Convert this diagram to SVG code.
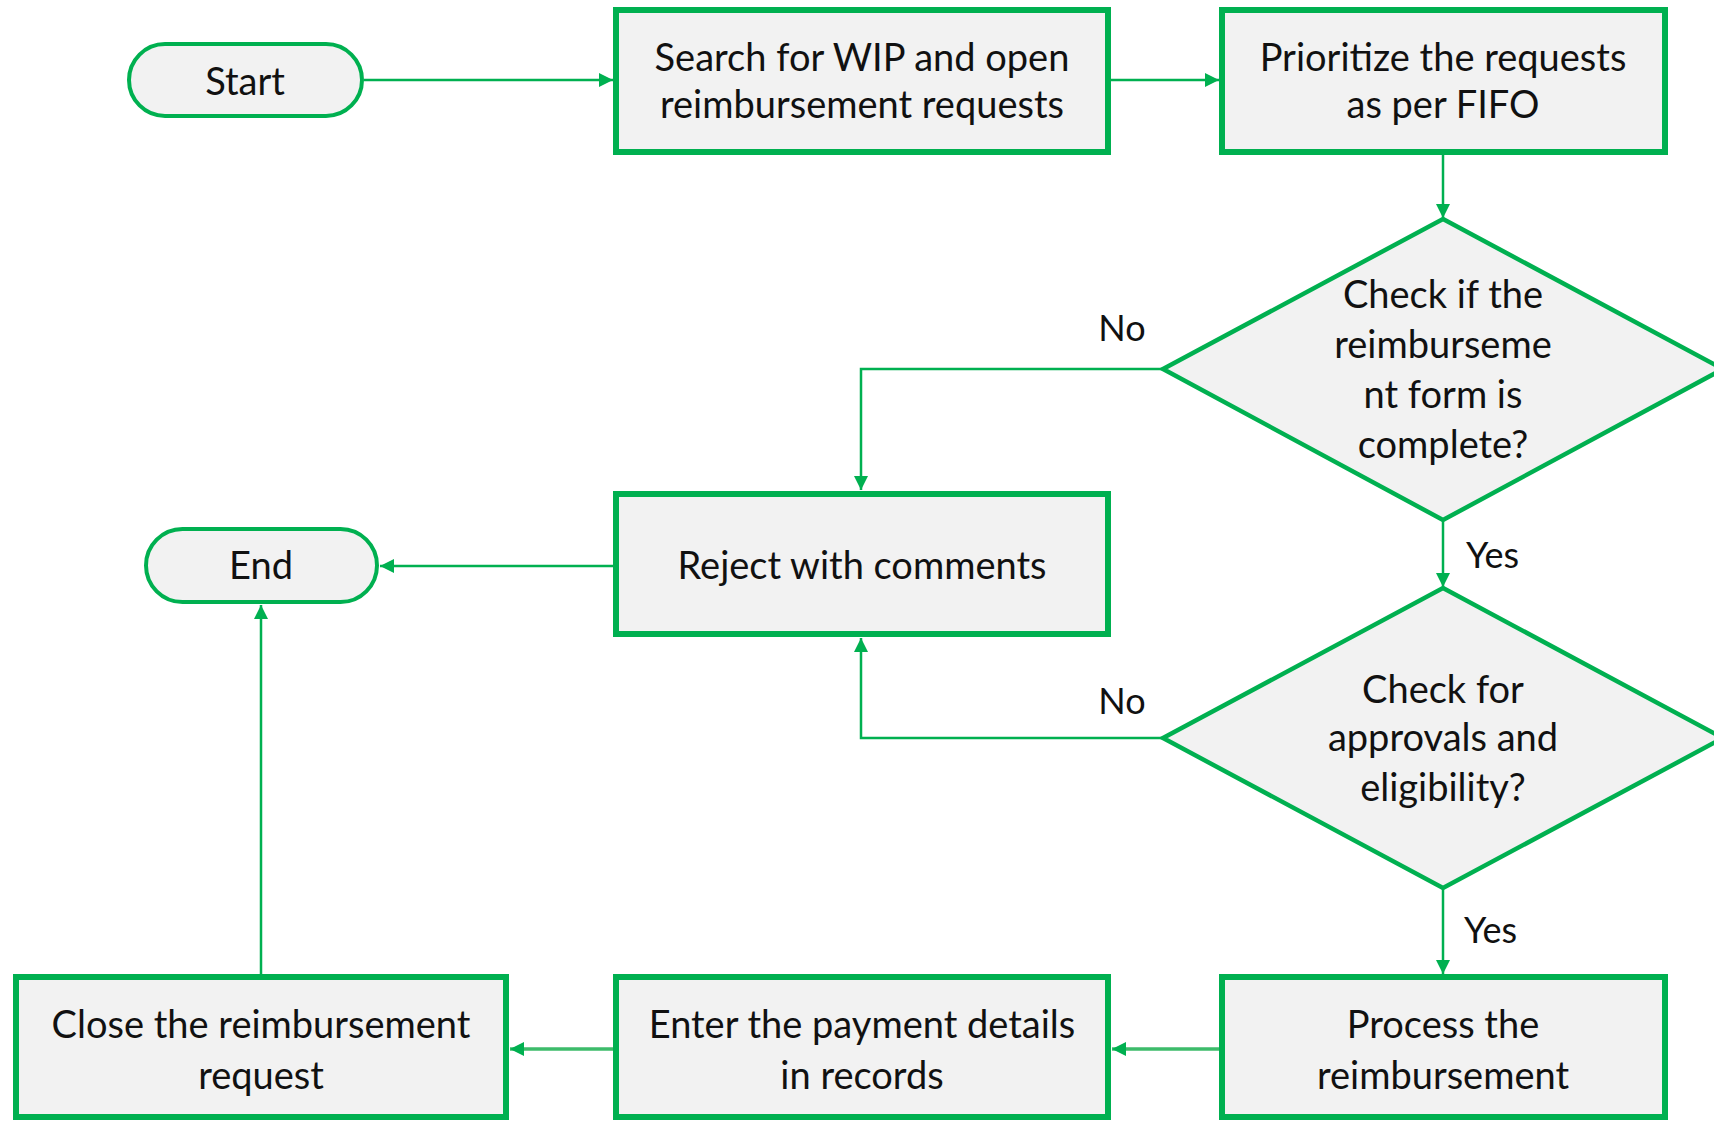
<svg xmlns="http://www.w3.org/2000/svg" width="1714" height="1122" viewBox="0 0 1714 1122">
  <style>
    .box { fill: #F2F2F2; stroke: #00B050; stroke-width: 6; }
    .pill { fill: #F2F2F2; stroke: #00B050; stroke-width: 4; }
    .dia { fill: #F2F2F2; stroke: #00B050; stroke-width: 4.5; stroke-linejoin: miter; }
    .lbl { font-family: Lato, "Open Sans", "Liberation Sans", sans-serif; font-size: 38px; fill: #111111; text-anchor: middle; }
    .tag { font-family: Lato, "Open Sans", "Liberation Sans", sans-serif; font-size: 36px; fill: #111111; }
    .link { fill: none; stroke: #00B050; stroke-width: 2.5; }
    .link-soft { fill: none; stroke: #3DBB6A; stroke-width: 3.5; }
  </style>
  <defs>
    <marker id="arrow" markerUnits="userSpaceOnUse" markerWidth="14" markerHeight="14" viewBox="0 0 14 14" refX="14" refY="7" orient="auto">
      <path d="M0,0 L14,7 L0,14 z" fill="#00B050"/>
    </marker>
  </defs>

  <rect width="1714" height="1122" fill="#FFFFFF"/>

  <!-- connectors -->
  <g id="connectors">
    <line class="link" x1="364" y1="80" x2="613" y2="80" marker-end="url(#arrow)"/>
    <line class="link" x1="1111" y1="80" x2="1219" y2="80" marker-end="url(#arrow)"/>
    <line class="link" x1="1443" y1="155" x2="1443" y2="218" marker-end="url(#arrow)"/>
    <polyline class="link" points="1163,369 861,369 861,490" marker-end="url(#arrow)"/>
    <line class="link" x1="1443" y1="520" x2="1443" y2="587" marker-end="url(#arrow)"/>
    <polyline class="link" points="1163,738 861,738 861,638" marker-end="url(#arrow)"/>
    <line class="link" x1="1443" y1="888" x2="1443" y2="974" marker-end="url(#arrow)"/>
    <line class="link-soft" x1="1219" y1="1049" x2="1112" y2="1049" marker-end="url(#arrow)"/>
    <line class="link-soft" x1="613" y1="1049" x2="510" y2="1049" marker-end="url(#arrow)"/>
    <line class="link" x1="613" y1="566" x2="380" y2="566" marker-end="url(#arrow)"/>
    <line class="link" x1="261" y1="974" x2="261" y2="605" marker-end="url(#arrow)"/>

    <text class="tag" x="1122" y="341" text-anchor="middle">No</text>
    <text class="tag" x="1122" y="714" text-anchor="middle">No</text>
    <text class="tag" x="1466" y="568">Yes</text>
    <text class="tag" x="1464" y="943">Yes</text>
  </g>

  <!-- terminals -->
  <g id="start">
    <rect class="pill" x="129" y="44" width="233" height="72" rx="36" ry="36"/>
    <text class="lbl" x="245" y="95">Start</text>
  </g>
  <g id="end">
    <rect class="pill" x="146" y="529" width="231" height="73" rx="36.5" ry="36.5"/>
    <text class="lbl" x="261" y="579">End</text>
  </g>

  <!-- process steps -->
  <g id="search">
    <rect class="box" x="616" y="10" width="492" height="142"/>
    <text class="lbl" x="862" y="71">Search for WIP and open</text>
    <text class="lbl" x="862" y="118">reimbursement requests</text>
  </g>
  <g id="prioritize">
    <rect class="box" x="1222" y="10" width="443" height="142"/>
    <text class="lbl" x="1443" y="71">Prioritize the requests</text>
    <text class="lbl" x="1443" y="118">as per FIFO</text>
  </g>
  <g id="reject">
    <rect class="box" x="616" y="494" width="492" height="140"/>
    <text class="lbl" x="862" y="579">Reject with comments</text>
  </g>
  <g id="process">
    <rect class="box" x="1222" y="977" width="443" height="140"/>
    <text class="lbl" x="1443" y="1038">Process the</text>
    <text class="lbl" x="1443" y="1089">reimbursement</text>
  </g>
  <g id="enter">
    <rect class="box" x="616" y="977" width="492" height="140"/>
    <text class="lbl" x="862" y="1038">Enter the payment details</text>
    <text class="lbl" x="862" y="1089">in records</text>
  </g>
  <g id="close">
    <rect class="box" x="16" y="977" width="490" height="140"/>
    <text class="lbl" x="261" y="1038">Close the reimbursement</text>
    <text class="lbl" x="261" y="1089">request</text>
  </g>

  <!-- decisions -->
  <g id="form-check">
    <polygon class="dia" points="1443,219 1723,369 1443,520 1163,369"/>
    <text class="lbl" x="1443" y="308">Check if the</text>
    <text class="lbl" x="1443" y="358">reimburseme</text>
    <text class="lbl" x="1443" y="408">nt form is</text>
    <text class="lbl" x="1443" y="458">complete?</text>
  </g>
  <g id="approval-check">
    <polygon class="dia" points="1443,588 1723,738 1443,888 1163,738"/>
    <text class="lbl" x="1443" y="703">Check for</text>
    <text class="lbl" x="1443" y="751">approvals and</text>
    <text class="lbl" x="1443" y="801">eligibility?</text>
  </g>
</svg>
